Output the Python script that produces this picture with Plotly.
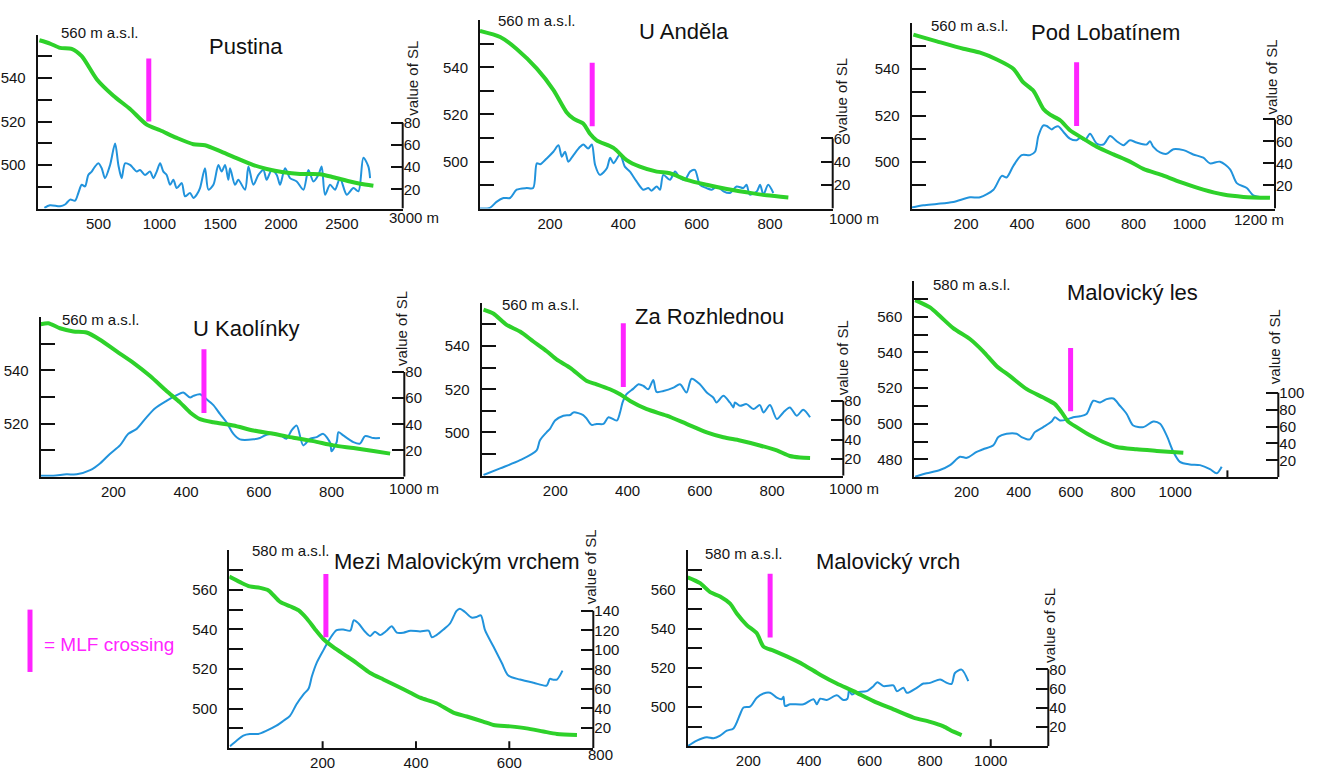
import plotly.graph_objects as go

W, H = 1320, 771

# ---------------- data ----------------
titles = ["Pustina", "U Anděla", "Pod Lobatínem", "U Kaolínky", "Za Rozhlednou",
          "Malovický les", "Mezi Malovickým vrchem", "Malovický vrch"]

# elevation profiles (green): distance [m], elevation [m a.s.l.]
pustina_dist = [14, 101, 184, 279, 362, 485, 622, 759, 896, 1006, 1143, 1280, 1375, 1499, 1608, 1773, 1882, 2019, 2156, 2321, 2430, 2567, 2650, 2759]
pustina_elev = [557.4, 555.9, 553.9, 553.5, 550.1, 539.5, 531.9, 525.8, 518.6, 516.0, 512.5, 509.6, 509.1, 506.4, 503.8, 500.0, 498.2, 496.7, 495.9, 495.8, 494.4, 492.4, 491.4, 490.5]
andela_dist = [9, 64, 109, 164, 209, 245, 264, 291, 309, 327, 373, 409, 445, 491, 527, 573, 627, 682, 736, 791, 850]
andela_elev = [555.6, 553.0, 547.9, 539.5, 530.5, 521.0, 518.2, 516.1, 511.8, 509.0, 505.8, 500.6, 497.8, 495.7, 495.0, 492.2, 490.1, 488.3, 486.9, 485.6, 484.7]
lobatin_dist = [11, 95, 190, 250, 310, 369, 405, 441, 477, 501, 537, 572, 620, 668, 728, 787, 835, 907, 979, 1050, 1122, 1194, 1289]
lobatin_elev = [554.9, 552.0, 548.8, 547.1, 544.2, 540.2, 534.3, 530.7, 522.9, 520.4, 518.0, 513.7, 510.1, 506.6, 503.3, 500.2, 497.1, 494.2, 490.9, 488.1, 486.0, 485.0, 484.6]
kaolinky_dist = [0, 21, 53, 90, 126, 163, 209, 255, 301, 346, 383, 411, 438, 475, 530, 585, 640, 695, 750, 805, 860, 915, 961]
kaolinky_elev = [557.4, 557.8, 555.9, 554.7, 554.3, 551.6, 547.2, 542.9, 537.9, 532.3, 528.0, 524.2, 521.7, 520.5, 519.3, 517.4, 516.2, 514.7, 513.4, 511.8, 510.8, 509.7, 508.7]
rozhl_dist = [1, 28, 65, 102, 139, 176, 204, 241, 287, 314, 351, 379, 407, 453, 508, 563, 619, 665, 711, 766, 813, 849, 877, 905]
rozhl_elev = [556.9, 555.1, 549.8, 546.7, 542.1, 537.6, 533.7, 529.9, 523.8, 522.3, 520.0, 517.7, 514.6, 510.8, 507.8, 504.0, 500.1, 497.8, 496.3, 494.0, 491.7, 489.1, 488.4, 488.2]
mles_dist = [3, 60, 98, 149, 213, 264, 316, 367, 431, 494, 539, 565, 590, 622, 673, 724, 775, 852, 929, 1031]
mles_elev = [569.3, 565.2, 560.4, 553.6, 547.5, 540.6, 532.3, 526.7, 519.4, 514.7, 511.0, 506.4, 501.2, 498.1, 493.5, 489.8, 487.0, 485.7, 484.8, 483.7]
mezi_dist = [0, 23, 44, 66, 84, 109, 130, 148, 166, 184, 202, 223, 252, 273, 302, 330, 359, 388, 409, 444, 480, 509, 544, 566, 602, 637, 673, 702, 745]
mezi_elev = [566.7, 563.9, 561.7, 561.0, 559.7, 553.9, 551.7, 549.7, 545.5, 540.0, 535.0, 531.0, 526.4, 523.0, 518.0, 514.7, 511.4, 508.0, 505.5, 502.7, 498.0, 496.0, 493.4, 491.7, 491.0, 490.0, 488.4, 487.2, 486.7]
mvrch_dist = [0, 41, 74, 107, 140, 162, 195, 228, 250, 283, 327, 382, 437, 492, 547, 613, 679, 745, 800, 844, 877, 904]
mvrch_elev = [566.2, 563.2, 558.6, 556.4, 552.7, 547.7, 541.8, 537.6, 530.8, 528.8, 525.8, 521.6, 516.5, 512.0, 508.1, 503.0, 498.8, 494.6, 492.4, 490.1, 487.4, 485.7]

# stream-length index (blue): distance [m], value of SL
pustina_sl_dist = [55, 101, 184, 225, 266, 307, 334, 362, 389, 416, 444, 471, 499, 526, 553, 595, 636, 663, 690, 718, 759, 786, 814, 841, 882, 923, 951, 978, 1006, 1033, 1060, 1088, 1115, 1143, 1184, 1211, 1252, 1280, 1307, 1334, 1375, 1403, 1444, 1485, 1512, 1540, 1567, 1581, 1622, 1649, 1704, 1732, 1773, 1814, 1855, 1882, 1923, 1965, 1992, 2033, 2074, 2129, 2184, 2225, 2266, 2307, 2334, 2362, 2403, 2444, 2485, 2540, 2595, 2636, 2677, 2718, 2732]
pustina_sl = [3.3, 5.7, 4.8, 6.3, 10.7, 9.8, 16.7, 24.1, 22.6, 33.0, 36.0, 40.5, 43.5, 39.0, 30.1, 42.0, 61.3, 42.0, 30.1, 43.5, 42.0, 39.0, 36.0, 37.5, 33.0, 36.0, 30.1, 36.0, 43.5, 36.0, 33.0, 24.1, 28.6, 21.1, 25.6, 13.7, 16.7, 12.2, 15.2, 21.1, 39.0, 19.7, 24.1, 42.0, 36.0, 42.0, 28.6, 39.0, 24.1, 28.6, 19.7, 40.5, 24.1, 33.0, 37.5, 28.6, 37.5, 33.0, 24.1, 39.0, 30.1, 27.1, 19.7, 37.5, 27.1, 33.0, 40.5, 15.2, 24.1, 19.7, 30.1, 15.2, 21.1, 18.2, 48.5, 40.5, 30.1]
andela_sl_dist = [9, 36, 54, 73, 91, 109, 136, 154, 164, 173, 191, 209, 223, 232, 241, 250, 264, 282, 291, 304, 314, 323, 336, 355, 364, 373, 391, 404, 418, 436, 454, 468, 477, 491, 500, 509, 527, 541, 555, 568, 582, 595, 609, 627, 641, 655, 673, 691, 709, 727, 736, 745, 764, 773, 782, 795, 809]
andela_sl = [0, 0.6, 5.7, 9.0, 9.0, 16.1, 17.5, 17.5, 38.7, 37.9, 42.9, 48.6, 54.2, 44.4, 48.6, 40.1, 45.8, 52.8, 54.8, 51.4, 54.8, 37.3, 28.8, 34.5, 43.5, 38.7, 46.3, 35.9, 31.6, 23.2, 16.1, 17.5, 15.3, 18.9, 16.1, 28.8, 24.6, 31.6, 26.0, 24.6, 31.6, 33.1, 20.3, 17.5, 16.1, 18.9, 14.7, 13.3, 18.9, 17.5, 20.3, 11.9, 14.7, 20.3, 11.9, 20.3, 13.3]
lobatin_sl_dist = [5, 47, 95, 154, 214, 250, 298, 328, 345, 369, 399, 429, 447, 459, 477, 489, 507, 519, 531, 549, 572, 596, 608, 626, 644, 668, 692, 716, 740, 764, 787, 811, 847, 859, 871, 895, 919, 943, 979, 1014, 1050, 1074, 1110, 1146, 1170, 1206, 1229, 1265]
lobatin_sl = [0, 2.0, 3.2, 5.0, 9.2, 9.2, 16.1, 28.7, 27.2, 37.7, 47.6, 47.6, 50.6, 65.0, 74.7, 74.1, 71.0, 73.1, 73.7, 68.6, 62.6, 61.1, 63.2, 61.1, 67.1, 58.1, 57.2, 65.0, 60.2, 56.6, 61.1, 59.0, 57.2, 60.2, 55.1, 50.0, 48.8, 53.0, 52.1, 48.2, 45.2, 40.1, 41.6, 34.7, 22.1, 17.6, 11.0, 9.2]
kaolinky_sl_dist = [0, 35, 71, 99, 136, 163, 191, 218, 241, 264, 291, 314, 346, 374, 392, 411, 420, 438, 456, 475, 493, 511, 530, 548, 585, 603, 621, 640, 658, 676, 690, 704, 722, 741, 759, 777, 796, 800, 814, 819, 832, 860, 878, 892, 915, 933]
kaolinky_sl = [0.8, 0.8, 1.8, 1.8, 5.0, 10.1, 17.6, 23.9, 32.7, 36.5, 45.3, 52.1, 57.9, 62.2, 64.2, 60.4, 61.7, 62.9, 59.2, 54.6, 47.9, 41.5, 32.7, 28.5, 28.5, 29.5, 32.0, 32.7, 32.0, 29.0, 35.3, 39.0, 23.9, 29.0, 30.2, 32.7, 25.9, 19.4, 26.4, 34.0, 31.5, 26.4, 25.2, 31.0, 29.5, 29.5]
rozhl_sl_dist = [1, 47, 102, 148, 157, 176, 185, 199, 222, 241, 250, 277, 287, 300, 314, 333, 347, 370, 379, 386, 397, 416, 430, 444, 457, 471, 480, 499, 527, 545, 563, 577, 600, 619, 637, 646, 665, 683, 693, 697, 711, 729, 748, 766, 776, 794, 813, 831, 849, 868, 886, 905]
rozhl_sl = [3.7, 10.5, 18.9, 29.1, 39.2, 47.7, 51.1, 59.6, 64.6, 65.3, 68.0, 65.3, 61.3, 55.2, 56.2, 56.2, 63.0, 59.6, 68.0, 78.2, 86.7, 92.4, 96.8, 95.1, 91.7, 101.2, 89.0, 90.0, 93.4, 96.8, 88.4, 102.6, 96.8, 88.4, 83.3, 78.2, 85.0, 78.2, 73.1, 78.2, 74.8, 76.5, 71.4, 75.5, 68.0, 75.5, 61.3, 68.0, 73.1, 64.6, 70.7, 63.0]
mles_sl_dist = [3, 47, 98, 137, 175, 201, 239, 264, 303, 322, 354, 392, 411, 443, 462, 494, 526, 539, 558, 584, 609, 635, 660, 686, 712, 737, 763, 788, 814, 839, 878, 916, 942, 967, 993, 1018, 1056, 1095, 1133, 1159, 1178]
mles_sl = [0.8, 4.7, 8.6, 14.4, 24.2, 23.0, 30.0, 33.1, 37.8, 47.6, 51.5, 51.5, 47.6, 44.8, 53.4, 59.3, 65.9, 71.0, 67.1, 68.2, 71.0, 72.1, 74.9, 90.5, 88.5, 92.4, 93.2, 84.6, 74.9, 61.2, 59.3, 65.9, 63.2, 49.5, 30.0, 18.3, 15.2, 14.4, 9.7, 4.7, 12.5]
mezi_sl_dist = [1.5, 16, 30, 44, 62, 80, 101, 116, 130, 144, 159, 170, 177, 187, 202, 216, 230, 244, 259, 267, 277, 291, 302, 312, 323, 337, 348, 359, 373, 388, 409, 427, 434, 444, 459, 473, 487, 494, 505, 519, 530, 539, 548, 566, 584, 598, 623, 652, 680, 687, 693, 702, 714]
mezi_sl = [1.4, 7.2, 12.3, 13.9, 13.9, 17.3, 22.4, 27.4, 32.5, 44.3, 54.5, 60.5, 73.0, 86.5, 100.0, 111.8, 120.2, 120.9, 119.6, 130.4, 127.0, 118.6, 114.2, 118.6, 115.2, 119.6, 124.3, 117.6, 117.6, 119.6, 118.9, 119.6, 112.9, 115.2, 120.9, 127.0, 139.9, 142.2, 138.8, 133.1, 133.7, 135.4, 120.2, 103.4, 86.5, 73.7, 69.6, 66.3, 63.5, 70.3, 69.6, 69.6, 78.7]
mvrch_sl_dist = [0, 30, 63, 85, 107, 129, 151, 173, 184, 206, 228, 250, 272, 294, 310, 316, 321, 338, 382, 415, 426, 437, 459, 492, 514, 527, 533, 541, 558, 591, 613, 626, 646, 679, 690, 712, 723, 756, 778, 800, 833, 855, 871, 882, 904, 926]
mvrch_sl = [0, 5.8, 9.3, 8.2, 11.0, 16.1, 18.5, 33.3, 40.2, 41.2, 50.5, 54.9, 55.6, 50.5, 48.8, 51.5, 41.9, 43.6, 43.6, 48.8, 43.6, 49.4, 48.1, 52.9, 48.1, 49.4, 59.1, 53.9, 56.3, 57.3, 62.5, 66.6, 62.5, 63.2, 57.3, 60.8, 55.6, 60.8, 65.2, 65.9, 69.4, 65.9, 64.9, 76.2, 79.7, 67.6]

# MLF crossing positions: distance and elevation span of the marker
mlf_dist = [913, 315, 596, 449, 388, 599, 207, 272]
mlf_elev_low = [520, 515, 515.5, 524, 521, 507, 536, 535.5]
mlf_elev_high = [549, 542, 543, 548, 550.5, 542.5, 568, 568]

# tick labels
x_tick_vals = [[500, 1000, 1500, 2000, 2500], [200, 400, 600, 800], [200, 400, 600, 800, 1000],
               [200, 400, 600, 800], [200, 400, 600, 800], [200, 400, 600, 800, 1000],
               [200, 400, 600], [200, 400, 600, 800, 1000]]
x_end_labels = ["3000 m", "1000 m", "1200 m", "1000 m", "1000 m", "", "800", ""]
sl_tick_vals = [[20, 40, 60, 80], [20, 40, 60], [20, 40, 60, 80], [20, 40, 60, 80], [20, 40, 60, 80],
                [20, 40, 60, 80, 100], [20, 40, 60, 80, 100, 120, 140], [20, 40, 60, 80]]
elev_label_vals = [[500, 520, 540], [500, 520, 540], [500, 520, 540], [520, 540], [500, 520, 540],
                   [480, 500, 520, 540, 560], [500, 520, 540, 560], [500, 520, 540, 560]]
top_labels = ["560 m a.s.l.", "560 m a.s.l.", "560 m a.s.l.", "560 m a.s.l.", "560 m a.s.l.",
              "580 m a.s.l.", "580 m a.s.l.", "580 m a.s.l."]

green_x = [pustina_dist, andela_dist, lobatin_dist, kaolinky_dist, rozhl_dist, mles_dist, mezi_dist, mvrch_dist]
green_y = [pustina_elev, andela_elev, lobatin_elev, kaolinky_elev, rozhl_elev, mles_elev, mezi_elev, mvrch_elev]
blue_x = [pustina_sl_dist, andela_sl_dist, lobatin_sl_dist, kaolinky_sl_dist, rozhl_sl_dist, mles_sl_dist, mezi_sl_dist, mvrch_sl_dist]
blue_y = [pustina_sl, andela_sl, lobatin_sl, kaolinky_sl, rozhl_sl, mles_sl, mezi_sl, mvrch_sl]

# ---------------- layout geometry (pixels) ----------------
# left, right, top, bottom
boxes = [(37.7, 402.7, 35, 210.7), (480, 832.7, 20.7, 210.7), (911.7, 1275, 23, 210.7),
         (40.7, 404.3, 320.7, 481.7), (481.7, 843.3, 306, 480.7), (914.3, 1278.3, 284, 482.3),
         (229.3, 593.3, 556, 756), (687.7, 1048.3, 556, 754)]
x_ranges = [[0, 3000], [9, 971], [5, 1307], [0, 1000], [-4, 997], [0, 1395], [0, 780], [0, 1190]]
elev_ranges = [[480, 560], [480, 560], [480, 560], [500, 560], [480, 560], [470, 580], [480, 580], [480, 580]]
sl_ranges = [[2.7, 159.5], [0, 161], [-1, 168], [0, 121.6], [3, 180.5], [0, 232], [-0.6, 202], [0, 204]]
title_pos = [(245.7, 46.7), (684, 31.7), (1105, 33.3), (246, 331.7), (709.7, 320), (1132.3, 296), (456.7, 567.3), (888.3, 567.3)]
sl_label_pos = [(413, 79.5), (842, 97), (1271.7, 77.5), (401.7, 331.7), (843.3, 361.7), (1274, 350.8), (590, 573.3), (1050, 632.5)]
top_label_pos = [(59, 32.5), (496, 21), (929, 25.3), (60, 322.5), (500, 307.3), (930.7, 287), (250, 556.7), (703.3, 559.3)]
end_label_pos = [(386.7, 220), (826.7, 221), (1231.7, 221.7), (386.7, 494), (826.7, 494), None, (586, 762), None]
extra_tick_marks = [[], [], [], [], [], [1200], [200, 400, 600], [1000]]

GREEN = "#2ed12a"
BLUE = "#2193dc"
MAG = "#ff24ff"
AX = "#111111"
NARROW = "Liberation Sans Narrow, Arial Narrow, Liberation Sans, Arial, sans-serif"
REG = "Liberation Sans, Arial, sans-serif"
TF = dict(family=NARROW, size=15, color="#141414")

fig = go.Figure()
layout = dict(width=W, height=H, margin=dict(l=0, r=0, t=0, b=0),
              paper_bgcolor="white", plot_bgcolor="white", showlegend=False)
shapes = []
annotations = []


def px(x):
    return x / W


def py(y):
    return 1 - y / H


for i in range(8):
    n = i + 1
    sfx = "" if n == 1 else str(n)
    xname, slname, elname = "x" + sfx, "y" + sfx, "y" + str(n + 8)
    L, R, T, B = boxes[i]

    fig.add_trace(go.Scatter(x=blue_x[i], y=blue_y[i], xaxis=xname, yaxis=slname, mode="lines",
                             line=dict(color=BLUE, width=2, shape="spline", smoothing=0.8),
                             hoverinfo="skip"))
    fig.add_trace(go.Scatter(x=green_x[i], y=green_y[i], xaxis=xname, yaxis=elname, mode="lines",
                             line=dict(color=GREEN, width=4, shape="spline", smoothing=0.7),
                             hoverinfo="skip"))

    layout["xaxis" + sfx] = dict(domain=[px(L), px(R)], range=x_ranges[i], anchor=slname,
                                 showline=True, linecolor=AX, linewidth=2, showgrid=False, zeroline=False,
                                 tickmode="array", tickvals=x_tick_vals[i], ticks="", tickfont=TF)
    layout["yaxis" + sfx] = dict(domain=[py(B), py(T)], range=sl_ranges[i], anchor=xname, side="right",
                                 showline=False, showgrid=False, zeroline=False,
                                 tickmode="array", tickvals=sl_tick_vals[i], ticks="inside", ticklen=12,
                                 tickwidth=2, tickcolor=AX, tickfont=TF)
    e0, e1 = elev_ranges[i]
    ev = list(range(e0 + 10, e1 + 1, 10))
    et = [str(v) if v in elev_label_vals[i] else "" for v in ev]
    layout["yaxis" + str(n + 8)] = dict(range=elev_ranges[i], overlaying=slname, anchor=xname, side="left",
                                        showline=True, linecolor=AX, linewidth=2, showgrid=False, zeroline=False,
                                        tickmode="array", tickvals=ev, ticktext=et, ticks="inside", ticklen=14,
                                        tickwidth=2, tickcolor=AX, tickfont=TF, ticklabelstandoff=7)

    # partial right axis line
    shapes.append(dict(type="line", xref=xname + " domain", x0=1, x1=1, yref=slname,
                       y0=sl_ranges[i][0], y1=max(sl_tick_vals[i]), line=dict(color=AX, width=2)))
    # MLF crossing marker
    shapes.append(dict(type="line", xref=xname, x0=mlf_dist[i], x1=mlf_dist[i], yref=elname,
                       y0=mlf_elev_low[i], y1=mlf_elev_high[i], line=dict(color=MAG, width=5)))
    # extra bottom tick marks
    for tv in extra_tick_marks[i]:
        shapes.append(dict(type="line", xref=xname, x0=tv, x1=tv, yref=slname + " domain",
                           y0=0, y1=7 / (B - T), line=dict(color=AX, width=2)))

    tx, ty = title_pos[i]
    annotations.append(dict(text=titles[i], xref="paper", yref="paper", x=px(tx), y=py(ty),
                            xanchor="center", yanchor="middle", showarrow=False,
                            font=dict(family=REG, size=22, color="#111")))
    sx, sy = sl_label_pos[i]
    annotations.append(dict(text="value of SL", xref="paper", yref="paper", x=px(sx), y=py(sy),
                            xanchor="center", yanchor="middle", showarrow=False, textangle=-90,
                            font=dict(family=REG, size=15, color="#1a1a1a")))
    lx, ly = top_label_pos[i]
    annotations.append(dict(text=top_labels[i], xref="paper", yref="paper", x=px(lx), y=py(ly),
                            xanchor="left", yanchor="middle", showarrow=False, font=TF))
    if end_label_pos[i] is not None:
        ex, ey = end_label_pos[i]
        annotations.append(dict(text=x_end_labels[i], xref="paper", yref="paper", x=px(ex), y=py(ey),
                                xanchor="left", yanchor="middle", showarrow=False, font=TF))

# legend
shapes.append(dict(type="line", xref="paper", yref="paper", x0=px(30), x1=px(30), y0=py(616), y1=py(679),
                   line=dict(color=MAG, width=5)))
annotations.append(dict(text="= MLF crossing", xref="paper", yref="paper", x=px(42), y=py(651.7),
                        xanchor="left", yanchor="middle", showarrow=False,
                        font=dict(family=REG, size=19, color=MAG)))

layout["shapes"] = shapes
layout["annotations"] = annotations
fig.update_layout(**layout)
fig.write_html("out.html")
